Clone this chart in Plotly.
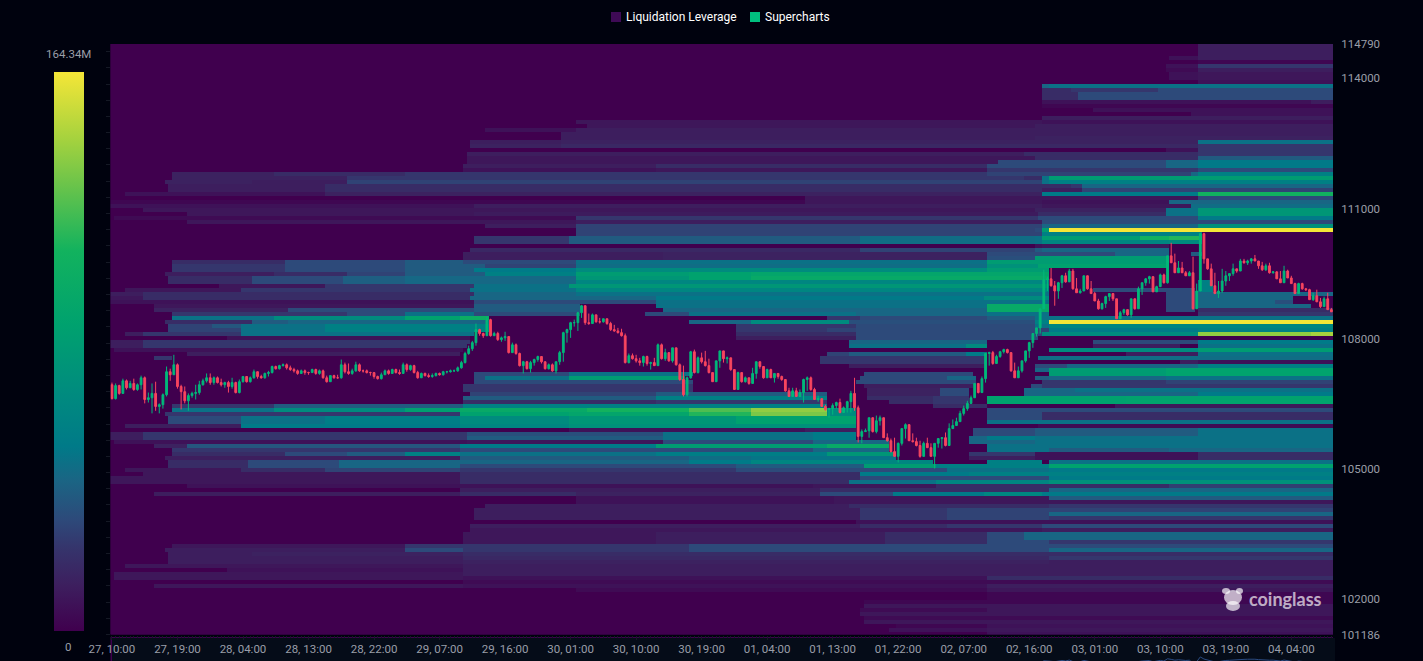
import numpy as np
import pandas as pd
import plotly.graph_objects as go

W, H = 1423, 661
def px(x): return x / W
def py(y): return 1 - y / H

# ---------- data ----------
first_open = 106940
closes = [
106620,106920,106740,107030,106870,106970,106830,106940,107100,106600,
106640,106740,106440,106480,106710,107240,107170,107400,106900,106780,
106570,106690,106740,106760,106940,107030,107100,106990,107100,106990,
106940,106990,106900,106990,106760,107010,107130,107010,107100,107240,
107130,107100,107200,107220,107360,107310,107380,107400,107330,107290,
107260,107200,107260,107220,107220,107290,107200,107260,107100,107010,
107150,107100,107100,107400,107240,107200,107260,107400,107260,107260,
107220,107220,107130,107080,107170,107260,107200,107290,107220,107200,
107400,107290,107380,107220,107100,107200,107150,107130,107150,107200,
107170,107240,107240,107260,107260,107330,107450,107660,107770,107910,
108210,108120,108070,108440,108070,108120,107980,108020,108050,107680,
107860,107660,107380,107470,107310,107450,107520,107590,107470,107310,
107400,107260,107470,107680,108140,108210,108370,108370,108600,108760,
108370,108350,108550,108390,108390,108460,108350,108210,108180,108140,
108070,107450,107610,107540,107490,107450,107590,107430,107450,107380,
107860,107540,107680,107490,107790,107400,107060,106710,107100,107700,
107220,107560,107470,107380,107220,107010,107490,107720,107540,107560,
107290,106830,107220,107010,107100,106970,107200,107470,107360,107100,
107290,107100,107200,107130,107060,106800,106670,106800,106670,106760,
107060,107100,106830,106600,106620,106440,106370,106390,106460,106530,
106300,106410,106550,106740,106410,105750,105860,105880,106180,105860,
106110,106180,105720,105650,105400,105290,105590,105930,106020,105650,
105630,105540,105290,105590,105490,105290,105590,105700,105720,105540,
105930,106000,106090,106280,106390,106510,106640,106970,106760,107080,
107660,107680,107430,107590,107700,107750,107680,107260,107100,107260,
107490,107720,107910,108120,108250,108690,109360,109380,109220,109100,
109290,109450,109310,109560,109150,109060,109100,109450,109150,109040,
108870,108690,108810,108970,109040,108920,108460,108600,108670,108550,
108920,108690,109150,109290,109380,109430,109080,109200,109470,109290,
109910,109750,109520,109630,109520,109450,109520,108690,109100,110420,
109840,109610,109220,109040,109100,109330,109450,109500,109610,109560,
109790,109750,109790,109840,109790,109680,109590,109680,109520,109540,
109380,109290,109560,109400,109270,109040,109270,109150,109130,108900,
108990,108850,108740,108920,108670,108620]
highs = [
106990,106970,106940,107080,107060,107030,107080,106970,107150,107130,
106760,106970,107010,106510,106740,107360,107310,107630,107430,106940,
106900,106740,106780,106940,107030,107080,107200,107200,107130,107130,
107080,107010,107030,107100,107010,107060,107130,107130,107130,107290,
107220,107170,107220,107260,107380,107380,107400,107430,107430,107380,
107330,107290,107290,107290,107240,107310,107310,107290,107290,107150,
107150,107170,107170,107520,107450,107430,107310,107470,107430,107290,
107290,107240,107220,107150,107220,107290,107290,107310,107310,107290,
107450,107430,107400,107400,107260,107220,107220,107200,107200,107220,
107220,107260,107260,107290,107290,107360,107490,107700,107840,107950,
108350,108230,108140,108510,108460,108160,108160,108050,108160,108020,
107910,107890,107680,107490,107490,107490,107540,107610,107590,107470,
107430,107430,107470,107720,108160,108230,108390,108440,108620,108780,
108640,108580,108580,108550,108480,108460,108460,108390,108320,108250,
108230,108120,107660,107660,107630,107560,107610,107610,107470,107560,
107890,107890,107770,107680,107790,107790,107430,107380,107130,107720,
107750,107590,107680,107720,107540,107220,107490,107720,107680,107590,
107520,107290,107240,107220,107130,107100,107330,107470,107470,107330,
107310,107310,107200,107170,107150,107030,106870,106870,106870,106830,
107080,107130,107130,106870,106690,106620,106480,106410,106510,106550,
106620,106440,106570,106800,107100,106460,105910,105930,106180,106160,
106230,106230,106180,105820,105700,105720,105610,105930,106050,105930,
105820,105720,105650,105630,105720,105590,105590,105700,105720,105840,
106050,106140,106180,106340,106460,106570,106690,106970,106970,107130,
107660,107700,107720,107630,107720,107770,107770,107680,107450,107360,
107490,107720,107930,108120,108250,108690,109590,109430,109630,109330,
109310,109470,109520,109610,109610,109400,109150,109450,109400,109330,
109080,108920,108830,108990,109040,109040,108920,108640,108690,108670,
108920,108870,109200,109290,109400,109450,109400,109220,109500,109500,
109910,110210,109960,109790,109770,109560,109560,109890,109270,110440,
110440,109840,109730,109520,109330,109610,109560,109500,109730,109610,
109840,109840,109820,109860,109930,109750,109770,109730,109750,109560,
109560,109560,109680,109590,109450,109290,109290,109290,109170,109150,
109060,109130,108940,108970,109060,108710]
lows = [
106600,106600,106710,106740,106830,106870,106800,106800,106830,106510,
106530,106280,106340,106280,106390,106670,107030,107170,106850,106370,
106510,106340,106640,106600,106710,106920,106990,106940,106940,106970,
106900,106870,106760,106850,106740,106740,106990,106990,106990,107080,
107080,107080,107080,107130,107200,107290,107290,107360,107290,107260,
107220,107170,107200,107170,107170,107220,107170,107170,107080,106990,
107010,107080,107080,107080,107200,107170,107170,107240,107240,107220,
107200,107150,107080,107060,107060,107170,107170,107200,107200,107170,
107200,107240,107260,107200,107080,107100,107130,107100,107100,107130,
107150,107150,107200,107220,107240,107240,107310,107430,107630,107720,
107840,108070,108020,108070,108050,108070,107950,107930,107950,107660,
107720,107630,107360,107200,107290,107220,107380,107470,107430,107290,
107290,107240,107200,107400,107470,107910,108020,108280,108180,108480,
108320,108320,108350,108370,108350,108370,108320,108180,108160,108120,
108050,107430,107430,107520,107450,107380,107360,107380,107290,107380,
107540,107520,107490,107470,107450,107380,107030,106670,106670,107080,
107200,107200,107430,107360,107200,107010,107130,107330,107450,107430,
107260,106830,106920,106990,106990,106940,106970,107080,107310,107080,
107100,107100,106990,107080,107030,106780,106670,106690,106670,106690,
106530,106800,106800,106600,106550,106440,106340,106180,106250,106390,
106280,106300,106300,106300,106340,105610,105590,105860,105720,105840,
105820,106000,105720,105630,105380,105290,105150,105540,105700,105650,
105610,105520,105260,105310,105490,105290,105010,105490,105470,105520,
105610,106000,106050,106090,106230,106340,106530,106640,106740,106800,
106990,107380,107400,107450,107560,107660,107660,107240,107100,107100,
107220,107450,107560,107790,108050,108120,108690,109100,109200,108760,
108920,109170,109290,109450,109130,109060,109040,109220,109130,109040,
108870,108670,108670,108710,108870,108870,108460,108460,108550,108530,
108480,108670,108690,109010,109220,109270,109080,109130,109200,109270,
109270,109750,109520,109560,109520,109450,109500,108670,109040,109220,
109730,109590,109220,109040,108940,109060,109220,109330,109450,109520,
109560,109730,109700,109730,109790,109610,109560,109560,109500,109500,
109380,109290,109360,109400,109270,109040,109060,109130,109100,108900,
108870,108850,108710,108810,108670,108620]

# Liquidation levels in millions, one line per price bin from the top down.
# Each pair is (half-hour slot where the level changes, new level).
level_changes = [
[(299,13)],[(299,13)],[(299,13)],
[(291,8),(299,13)],
[(299,3)],
[(290,8),(299,25)],
[(290,5),(299,13)],
[(291,8),(299,10)],[(291,8),(299,10)],
[(299,8)],
[(256,45),(258,50)],
[(256,20),(264,25),(288,33)],
[(256,20),(266,33)],
[(256,20),(266,33)],
[(256,8),(330,13)],
[(256,3)],
[(270,8)],
[(297,8)],
[(256,13)],
[(128,10),(256,8)],
[(131,10),(254,13)],
[(103,8),(128,13)],
[(124,13)],
[(124,13),(254,15)],
[(99,13),(124,15),(299,50)],
[(99,15),(124,18),(299,25)],
[(290,8),(299,25)],
[(98,13),(251,20),(299,25)],
[(98,10),(254,20),(299,40)],
[(98,10),(244,33),(290,45),(299,54)],
[(97,13),(150,20),(241,33),(290,45),(299,54)],
[(97,8),(150,10),(241,25),(299,33)],
[(17,15),(45,20),(81,25),(241,30),(297,45),(299,60)],
[(17,15),(65,25),(251,20),(256,50),(258,85)],
[(15,15),(39,13),(65,30),(256,50),(258,60)],
[(16,13),(59,20),(264,25),(267,45)],
[(16,13),(59,20),(256,13),(267,30)],
[(4,8),(59,15),(256,55),(299,110)],
[(191,10),(299,33)],
[(0,3),(191,10),(256,8),(291,45)],
[(0,8),(100,13),(256,10),(297,48)],
[(9,10),(254,15),(290,50),(299,80)],
[(21,10),(100,12),(255,20),(290,50),(299,80)],
[(1,5),(128,25),(255,33),(299,54)],
[(21,10),(128,13),(256,33)],
[(103,13),(128,30),(256,45),(299,75)],
[(128,30),(254,33),(256,85),(258,164.34)],
[(128,30),(256,60),(300,0)],
[(100,25),(126,40),(206,48),(254,50),(256,85),(283,110),(291,115),(300,0)],
[(100,25),(126,40),(206,48),(254,50),(256,65),(291,70),(300,0)],
[(254,8),(256,10),(291,0)],
[(99,18),(206,30),(254,40),(256,45),(291,0)],
[(97,13),(152,15),(241,33),(256,33),(276,45),(291,0),(297,40),(300,0)],
[(97,13),(152,15),(241,35),(254,85),(291,0)],
[(17,20),(48,33),(81,40),(97,33),(128,50),(241,85),(291,0)],
[(17,25),(48,33),(81,40),(103,30),(128,48),(241,75),(255,90),(291,0)],
[(17,25),(48,33),(81,40),(100,55),(128,70),(241,85),(258,0)],
[(15,13),(45,20),(65,30),(81,40),(103,60),(128,85),(159,90),(176,95),(258,0)],
[(16,20),(39,33),(64,42),(81,46),(128,80),(159,90),(176,100),(258,0)],
[(16,20),(39,33),(64,42),(81,46),(128,65),(258,0),(299,60),(303,0)],
[(30,10),(59,25),(100,50),(126,80),(258,0),(299,60),(303,0)],
[(4,10),(36,25),(99,50),(128,65),(258,0),(270,33),(298,0),(299,60),(303,0)],
[(0,13),(9,20),(100,45),(128,50),(258,0),(290,33),(298,0),(299,45),(321,45)],
[(0,10),(9,20),(99,45),(150,54),(240,70),(258,0),(290,33),(298,0),(299,45),(325,0)],
[(0,8),(100,33),(150,50),(258,0),(290,33),(298,0),(299,45),(320,35),(325,0)],
[(12,10),(100,40),(129,0),(150,50),(241,100),(258,0),(290,33),(298,0),(299,45),(330,0)],
[(12,15),(49,33),(100,40),(129,0),(152,45),(241,100),(258,0),(290,33),(298,0),(299,20)],
[(17,25),(65,33),(81,50),(100,33),(129,0),(147,33),(159,50),(205,45),(241,50),(258,0),(299,25)],
[(17,50),(45,70),(81,90),(96,105),(104,0),(197,25),(206,33),(241,40),(254,50)],
[(15,20),(39,40),(49,45),(104,0),(159,45),(176,70),(203,35),(254,60),(258,164.34)],
[(16,30),(28,38),(36,50),(59,60),(104,0),(172,25),(205,33),(254,50),(258,65)],
[(16,30),(36,50),(59,60),(104,0),(172,25),(197,30),(205,33),(254,30),(258,55),(299,60)],
[(4,13),(9,25),(36,50),(100,0),(172,20),(205,33),(256,70),(299,140),(330,145)],
[(32,8),(99,0),(172,13),(205,33),(255,0)],
[(0,13),(9,25),(99,0),(203,45),(241,0),(270,33),(299,55)],
[(0,13),(9,25),(98,0),(203,50),(235,70),(241,0),(270,13),(294,0),(299,50)],
[(1,8),(97,0),(258,70),(299,85)],
[(21,13),(96,0),(197,30),(203,40),(235,55),(241,0),(279,13),(299,50)],
[(12,25),(17,0),(195,25),(241,0),(255,48)],
[(195,25),(241,0),(294,13),(299,8)],
[(203,13),(241,0),(254,33),(263,45),(299,60)],
[(254,45),(258,85),(290,92)],
[(100,33),(126,50),(160,0),(207,33),(237,0),(258,85),(290,92)],
[(100,33),(103,50),(126,85),(158,0),(206,33),(230,45),(238,0),(254,40),(258,45),(290,50)],
[(100,33),(160,0),(205,33),(238,0),(256,25),(290,30)],
[(97,25),(160,0),(207,13),(237,0),(253,33),(256,25)],
[(97,25),(160,0),(208,15),(228,33),(236,0),(251,45),(265,50)],
[(99,30),(150,40),(197,0),(208,15),(228,33),(236,0),(251,45),(299,55)],
[(97,40),(150,60),(197,0),(208,20),(226,25),(236,0),(241,90),(279,92)],
[(97,20),(150,25),(197,0),(214,20),(226,25),(236,0),(241,90),(279,92)],
[(17,25),(45,40),(97,60),(197,0),(226,20),(241,0),(276,10)],
[(17,50),(45,70),(81,88),(96,100),(131,112),(159,125),(176,140),(197,70),(205,0),(241,33)],
[(15,25),(96,90),(126,95),(159,115),(176,135),(197,70),(205,0),(241,33),(256,20)],
[(16,33),(36,50),(59,58),(96,70),(126,80),(172,90),(205,0),(241,33),(256,20)],
[(16,33),(36,50),(59,58),(96,70),(126,80),(172,90),(205,0),(241,50)],
[(4,13),(36,55),(96,65),(126,75),(205,0),(255,5)],
[(126,8),(191,13),(205,0),(237,33),(254,40),(299,50)],
[(0,13),(9,25),(98,35),(152,50),(193,55),(205,0),(237,33),(254,40),(299,50)],
[(0,13),(9,25),(98,40),(152,50),(193,55),(205,0),(236,45),(241,54),(254,50)],
[(1,8),(98,10),(152,33),(193,45),(214,0),(236,45),(254,50)],
[(12,15),(21,38),(96,55),(150,85),(197,100),(214,0),(241,50)],
[(17,25),(96,33),(193,45),(214,0),(241,50),(258,40),(291,45)],
[(17,20),(48,33),(65,40),(81,60),(96,50),(150,58),(197,80),(216,0),(236,25),(254,8),(299,20)],
[(15,13),(96,40),(159,48),(176,52),(216,0),(236,13),(254,8),(299,20)],
[(16,20),(38,33),(63,45),(159,55),(176,65),(226,0),(241,60),(256,0),(258,50)],
[(16,20),(38,33),(63,45),(96,33),(172,40),(207,85),(227,60),(258,90)],
[(4,10),(36,20),(59,30),(96,25),(172,33),(230,50),(258,54)],
[(9,10),(96,20),(206,55),(236,60)],
[(0,10),(96,20),(206,33),(258,55)],
[(0,10),(96,20),(203,50),(227,65),(258,75)],
[(21,8),(193,10),(227,20),(291,28)],
[(96,13),(195,20),(258,45)],
[(12,13),(96,20),(128,15),(195,33),(215,54),(240,65),(256,54)],
[(128,8),(199,10),(258,40)],
[(128,8),(199,10)],
[(103,13),(203,20),(258,25)],
[(100,13),(206,25),(230,30)],
[(100,13),(206,25),(230,30),(258,45)],
[(100,13),(206,25),(230,30),(258,25)],
[(205,8)],
[(99,13),(206,20),(230,25),(256,33)],
[(99,10),(256,13)],
[(97,10),(150,13),(213,20),(241,33),(251,45)],
[(97,10),(150,13),(213,20),(241,33),(251,45)],
[(97,10),(150,13),(213,20),(241,33),(258,25)],
[(17,10),(81,25),(159,33)],
[(15,13),(81,33),(97,25),(159,33),(258,45)],
[(16,13),(39,15),(97,20)],
[(16,13),(97,18),(258,25)],
[(16,13),(97,15),(258,13)],
[(4,10),(97,13)],
[(32,8),(97,13)],
[(1,10),(97,13),(241,13)],
[(1,10),(97,8),(241,20)],
[(97,5)],
[(12,10),(97,8),(241,13)],
[(128,5),(241,10)],
[(241,3)],
[(241,3)],
[(207,3)],
[(207,10)],
[(206,5),(241,10)],
[(206,10)],
[(207,5)],
[(207,10)],
[(216,3),(241,8)],
[(214,8),(241,10)],
[(241,8)],
]

axis_top, axis_bottom = 114790, 101186
price_ticks = [114790, 114000, 111000, 108000, 105000, 102000, 101186]
series_names = ["Liquidation Leverage", "Supercharts"]
scale_max = 164.34
scale_label_top, scale_label_bottom = "164.34M", "0"

# ---------- build ----------
N = len(closes)
times = pd.date_range("2025-06-27 10:00", periods=N, freq="30min")
opens = [first_open] + closes[:-1]
bin_size = 92.16
price_bins = [axis_top - bin_size * (i + 0.5) for i in range(len(level_changes))]
z = np.zeros((len(level_changes), N))
for r, changes in enumerate(level_changes):
    for slot, val in changes:
        z[r, slot:] = val
half = pd.Timedelta(minutes=30)
xr = [times[0] - 0.4 * half, times[0] + 335.45 * half]

scale = [
 [0, "#40004e"], [0.08, "#3d1e5e"], [0.15, "#35356c"], [0.2, "#2d4a7a"], [0.27, "#1a6584"],
 [0.33, "#007a88"], [0.43, "#008c7e"], [0.55, "#00a26e"], [0.68, "#12b25e"], [0.8, "#6cc44a"],
 [0.88, "#a5d23e"], [1, "#f5e637"]]

fig = go.Figure()
fig.add_trace(go.Heatmap(
    x=times, y=price_bins[::-1], z=z[::-1], zmin=0, zmax=scale_max, colorscale=scale,
    zsmooth=False, hoverinfo="skip", name=series_names[0],
    colorbar=dict(thickness=30, thicknessmode="pixels", len=559 / H, lenmode="fraction",
                  x=px(54), xanchor="left", y=1 - 631 / H, yanchor="bottom", xpad=0, ypad=0,
                  outlinewidth=0, ticks="", showticklabels=False, borderwidth=0),
))
fig.add_trace(go.Candlestick(
    x=times, open=opens, high=highs, low=lows, close=closes, name=series_names[1],
    increasing=dict(line=dict(color="#00b87a", width=1), fillcolor="#00b87a"),
    decreasing=dict(line=dict(color="#f8455f", width=1), fillcolor="#f8455f"),
    whiskerwidth=0, showlegend=False, hoverinfo="skip",
))
# invisible helper so the left-hand tick strip is drawn
fig.add_trace(go.Scatter(x=[times[0]], y=[108000], yaxis="y2", mode="markers",
                         marker=dict(opacity=0), showlegend=False, hoverinfo="skip"))
# overview line of the zoom strip, clipped at the bottom edge
fig.add_trace(go.Scatter(x=times, y=closes, yaxis="y3", mode="lines",
                         line=dict(color="#2b4b82", width=1), showlegend=False, hoverinfo="skip"))

tick_color = "#151925"
label_font = dict(family="Roboto", size=11.5, color="#9a9ea8")
fig.update_layout(
    width=W, height=H, margin=dict(l=0, r=0, t=0, b=0, autoexpand=False), autosize=False,
    paper_bgcolor="#00020e", plot_bgcolor="#3e004e", showlegend=False, boxgap=0.3,
    xaxis=dict(domain=[px(110.5), px(1333)], range=xr, type="date", anchor="y",
               tick0="2025-06-27 10:00", dtick=32400000, tickformat="%d, %H:%M",
               ticks="outside", ticklen=4, tickcolor=tick_color, tickfont=label_font,
               showgrid=False, zeroline=False, showline=False, rangeslider=dict(visible=False),
               minor=dict(ticks="outside", dtick=1800000, ticklen=2, tickcolor=tick_color, showgrid=False)),
    yaxis=dict(domain=[1 - 634.5 / H, 1 - 44 / H], range=[axis_bottom, axis_top], side="right", anchor="x",
               tickmode="array", tickvals=price_ticks, ticktext=[str(v) for v in price_ticks],
               ticks="outside", ticklen=5, tickcolor="#00020e", tickfont=label_font,
               showgrid=False, zeroline=False, showline=False),
    yaxis2=dict(overlaying="y", side="left", anchor="x", range=[axis_bottom, axis_top],
                tick0=axis_bottom, dtick=373, ticks="outside", ticklen=4, tickcolor=tick_color,
                showticklabels=False, showgrid=False, zeroline=False, showline=False),
    yaxis3=dict(domain=[0, 24 / H], range=[109300, 115900], anchor="x", visible=False,
                showgrid=False, zeroline=False),
    shapes=[
        dict(type="rect", xref="paper", yref="paper", x0=px(112), x1=px(1335), y0=py(661), y1=py(638),
             fillcolor="#050c18", line_width=0, layer="below"),
        dict(type="rect", xref="paper", yref="paper", x0=px(611), x1=px(621), y0=py(22), y1=py(12),
             fillcolor="#3e0a55", line_width=0),
        dict(type="rect", xref="paper", yref="paper", x0=px(750), x1=px(760), y0=py(22), y1=py(12),
             fillcolor="#00c07f", line_width=0),
        # watermark animal
        dict(type="circle", xref="paper", yref="paper", x0=px(1224), x1=px(1242), y0=py(605), y1=py(590),
             fillcolor="rgba(255,255,255,0.68)", line_width=0),
        dict(type="circle", xref="paper", yref="paper", x0=px(1222), x1=px(1230), y0=py(594), y1=py(588),
             fillcolor="rgba(255,255,255,0.68)", line_width=0),
        dict(type="circle", xref="paper", yref="paper", x0=px(1236), x1=px(1243), y0=py(594), y1=py(588),
             fillcolor="rgba(255,255,255,0.68)", line_width=0),
        dict(type="circle", xref="paper", yref="paper", x0=px(1226), x1=px(1240), y0=py(611), y1=py(601),
             fillcolor="rgba(255,255,255,0.68)", line_width=0),
    ],
    annotations=[
        dict(text=series_names[0], xref="paper", yref="paper", x=px(624), y=py(17), xanchor="left", yanchor="middle",
             showarrow=False, font=dict(family="Roboto", size=12, color="#ffffff")),
        dict(text=series_names[1], xref="paper", yref="paper", x=px(763), y=py(17), xanchor="left", yanchor="middle",
             showarrow=False, font=dict(family="Roboto", size=12, color="#ffffff")),
        dict(text=scale_label_top, xref="paper", yref="paper", x=px(68), y=py(54), xanchor="center", yanchor="middle",
             showarrow=False, font=label_font),
        dict(text=scale_label_bottom, xref="paper", yref="paper", x=px(68), y=py(647), xanchor="center", yanchor="middle",
             showarrow=False, font=label_font),
        dict(text="<b>coinglass</b>", xref="paper", yref="paper", x=px(1285), y=py(599), xanchor="center", yanchor="middle",
             showarrow=False, font=dict(family="Lato", size=18, color="rgba(255,255,255,0.68)")),
    ],
)
fig.write_html("out.html", config=dict(displayModeBar=False),
               post_script="document.body.style.margin='0';document.body.style.background='#00020e';")
